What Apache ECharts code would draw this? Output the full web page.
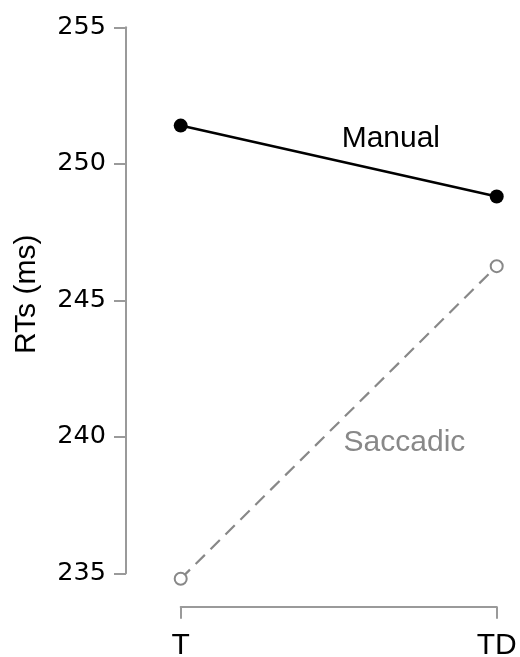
<!DOCTYPE html>
<html>
<head>
<meta charset="utf-8">
<script src="https://cdn.jsdelivr.net/npm/echarts@6/dist/echarts.min.js"></script>
<style>
html,body{margin:0;padding:0;background:#fff;}
#c{width:520px;height:657px;}
</style>
</head>
<body>
<div id="c"></div>
<script>
const categories = ['T', 'TD'];
const manualValues = [251.4, 248.8];
const saccadicValues = [234.8, 246.25];
const yTicks = [235, 240, 245, 250, 255];
const seriesNames = ['Manual', 'Saccadic'];
// label anchors: [x position between categories (0..1), value]
const manualLabelAnchor = [0.665, 250.9];
const saccadicLabelAnchor = [0.708, 239.77];

const axisGray = '#9a9a9a';
const sacGray = '#888888';

const toPairs = vals => vals.map((v, i) => [i, v]);

const chart = echarts.init(document.getElementById('c'), null, {renderer: 'canvas'});
chart.setOption({
  animation: false,
  backgroundColor: '#fff',
  grid: {left: 180.7, right: 23.3, top: 27.3, bottom: 83.7, containLabel: false, outerBoundsMode: 'none'},
  xAxis: {
    type: 'value', min: 0, max: categories.length - 1, interval: 1,
    offset: 33.4,
    axisLine: {show: true, onZero: false, lineStyle: {color: axisGray, width: 2}},
    axisTick: {show: true, inside: false, length: 12, lineStyle: {color: axisGray, width: 2}},
    axisLabel: {
      margin: 24, color: '#000', fontSize: 30, fontFamily: 'Liberation Sans',
      formatter: v => categories[v] !== undefined ? categories[v] : ''
    },
    splitLine: {show: false}
  },
  yAxis: {
    type: 'value', min: yTicks[0], max: yTicks[yTicks.length - 1], interval: 5,
    offset: 54.7,
    name: 'RTs (ms)', nameLocation: 'middle', nameGap: 84, nameRotate: 90,
    nameTextStyle: {color: '#000', fontSize: 30, fontFamily: 'Liberation Sans', padding: [0, 0, 0, 12]},
    axisLine: {show: true, onZero: false, lineStyle: {color: axisGray, width: 2}},
    axisTick: {show: true, inside: false, length: 12, lineStyle: {color: axisGray, width: 2}},
    axisLabel: {margin: 20, color: '#000', fontSize: 25.5, fontFamily: 'DejaVu Sans'},
    splitLine: {show: false}
  },
  series: [
    {
      name: seriesNames[0], type: 'line', data: toPairs(manualValues),
      symbol: 'circle', symbolSize: 14, clip: false,
      lineStyle: {color: '#000', width: 2.6},
      itemStyle: {color: '#000'},
      z: 3,
      markPoint: {
        symbol: 'circle', symbolSize: 0,
        label: {show: true, position: 'inside', formatter: seriesNames[0], color: '#000', fontSize: 30, fontFamily: 'Liberation Sans'},
        data: [{coord: manualLabelAnchor}]
      }
    },
    {
      name: seriesNames[1], type: 'line', data: toPairs(saccadicValues),
      symbol: 'emptyCircle', symbolSize: 12, clip: false,
      lineStyle: {color: sacGray, width: 2.2, type: [13, 8]},
      itemStyle: {color: sacGray, borderWidth: 2.2, borderColor: sacGray},
      markPoint: {
        symbol: 'circle', symbolSize: 0,
        label: {show: true, position: 'inside', formatter: seriesNames[1], color: sacGray, fontSize: 30, fontFamily: 'Liberation Sans'},
        data: [{coord: saccadicLabelAnchor}]
      }
    }
  ]
});
</script>
</body>
</html>
